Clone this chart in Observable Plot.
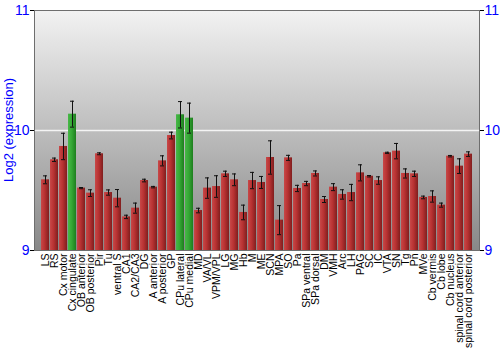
<!DOCTYPE html>
<html>
<head>
<meta charset="utf-8">
<script src="https://cdn.jsdelivr.net/npm/d3@7"></script>
<script src="https://cdn.jsdelivr.net/npm/@observablehq/plot@0.6"></script>
<style>
  html, body { margin: 0; padding: 0; background: #fff; }
  #chart svg { display: block; }
</style>
</head>
<body>
<div id="chart"></div>
<script>
const categories = ["LS","RS","Cx motor","Cx cingulate","OB anterior","OB posterior","Pir","Tu","ventral S","CA1","CA2/CA3","DG","A anterior","A posterior","GP","CPu lateral","CPu medial","MD","VA/VL","VPM/VPL","LG","MG","Hb","M","ME","SCN","MPA","SO","Pa","SPa ventral","SPa dorsal","DM","VMH","Arc","LH","PAG","SC","IC","VTA","SN","Tg","Pn","MVe","Cb vermis","Cb lobe","Cb nucleus","spinal cord anterior","spinal cord posterior"];
const values = [9.589,9.756,9.867,10.136,9.52,9.478,9.806,9.483,9.436,9.28,9.353,9.583,9.528,9.747,9.958,10.131,10.103,9.333,9.52,9.533,9.639,9.589,9.317,9.583,9.567,9.775,9.253,9.772,9.517,9.558,9.642,9.425,9.528,9.467,9.483,9.647,9.619,9.583,9.814,9.828,9.642,9.639,9.442,9.45,9.378,9.786,9.703,9.803];
const errors = [0.033,0.014,0.11,0.108,0.005,0.028,0.008,0.022,0.072,0.014,0.042,0.011,0.006,0.042,0.028,0.11,0.125,0.019,0.085,0.09,0.022,0.049,0.061,0.068,0.05,0.139,0.121,0.021,0.026,0.018,0.021,0.025,0.029,0.039,0.068,0.067,0.006,0.031,0.005,0.064,0.038,0.022,0.011,0.047,0.017,0.006,0.061,0.019];
const highlighted = ["Cx cingulate","CPu lateral","CPu medial"];
const yTicks = [9, 10, 11];
const yLabel = "Log2 (expression)";
const baseline = 9;

const data = categories.map((name, i) => ({name, value: values[i], err: errors[i], hi: highlighted.includes(name)}));

const svg = Plot.plot({
  width: 500,
  height: 350,
  marginLeft: 34,
  marginRight: 21,
  marginTop: 10,
  marginBottom: 100,
  style: {fontFamily: "Liberation Sans, Arial, sans-serif", background: "transparent"},
  x: {domain: categories, padding: 0.12},
  y: {domain: [9, 11]},
  marks: [
    Plot.frame({fill: "url(#bggrad)"}),
    Plot.ruleY([10], {stroke: "#f4f4f4", strokeWidth: 1.5}),
    Plot.barY(data.filter(d => !d.hi), {x: "name", y1: () => baseline, y2: "value", fill: "url(#redgrad)"}),
    Plot.barY(data.filter(d => d.hi), {x: "name", y1: () => baseline, y2: "value", fill: "url(#greengrad)"}),
    Plot.ruleX(data, {x: "name", y1: d => d.value - d.err, y2: d => d.value + d.err, stroke: "#111", strokeWidth: 1}),
    Plot.tickY(data, {x: "name", y: d => d.value - d.err, stroke: "#111", insetLeft: 2, insetRight: 2}),
    Plot.tickY(data, {x: "name", y: d => d.value + d.err, stroke: "#111", insetLeft: 2, insetRight: 2}),
    Plot.frame({stroke: "#6e6e6e"}),
    Plot.axisY({anchor: "left", ticks: yTicks, tickFormat: d3.format("d"), fill: "blue", stroke: "black", fontSize: 14, tickSize: 4, tickPadding: 1, label: null}),
    Plot.axisY({anchor: "right", ticks: yTicks, tickFormat: d3.format("d"), fill: "blue", stroke: "black", fontSize: 14, tickSize: 4, tickPadding: 1, label: null}),
    Plot.axisX({tickRotate: -90, tickSize: 0, tickPadding: 3, fontSize: 10.5, fill: "black", label: null})
  ]
});

const defs = d3.select(svg).insert("defs", ":first-child");
const bg = defs.append("linearGradient").attr("id", "bggrad").attr("x1", 0).attr("y1", 0).attr("x2", 0).attr("y2", 1);
bg.append("stop").attr("offset", "0%").attr("stop-color", "#f2f2f2");
bg.append("stop").attr("offset", "100%").attr("stop-color", "#888888");
const red = defs.append("linearGradient").attr("id", "redgrad").attr("x1", 0).attr("y1", 0).attr("x2", 1).attr("y2", 0);
red.append("stop").attr("offset", "0%").attr("stop-color", "#c84848");
red.append("stop").attr("offset", "45%").attr("stop-color", "#b83232");
red.append("stop").attr("offset", "100%").attr("stop-color", "#801e1e");
const green = defs.append("linearGradient").attr("id", "greengrad").attr("x1", 0).attr("y1", 0).attr("x2", 1).attr("y2", 0);
green.append("stop").attr("offset", "0%").attr("stop-color", "#48b848");
green.append("stop").attr("offset", "45%").attr("stop-color", "#35a835");
green.append("stop").attr("offset", "100%").attr("stop-color", "#1e7e1e");

d3.select(svg).append("text")
  .attr("transform", "translate(8,130) rotate(-90)")
  .attr("text-anchor", "middle")
  .attr("dy", "0.35em")
  .attr("fill", "blue")
  .attr("font-size", 13)
  .attr("font-family", "Liberation Sans, Arial, sans-serif")
  .text(yLabel);
document.getElementById("chart").appendChild(svg);
</script>
</body>
</html>
